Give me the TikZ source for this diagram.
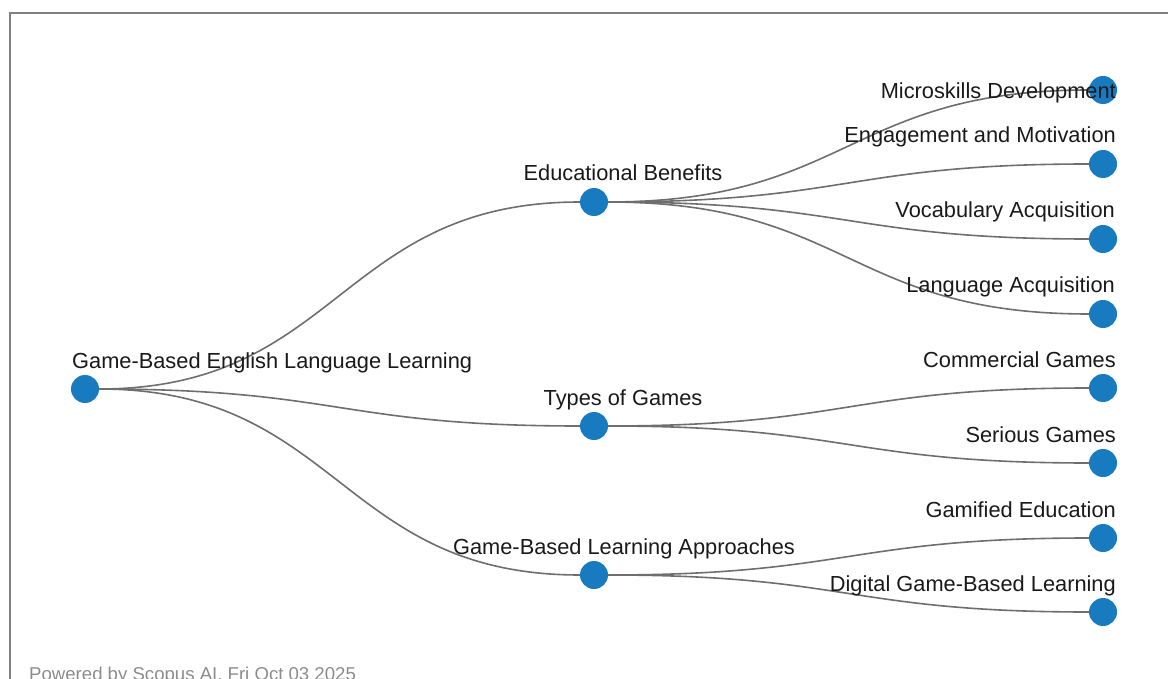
\documentclass[tikz,border=0pt]{standalone}
\usepackage{fontspec}
\setmainfont{Liberation Sans}
\usetikzlibrary{positioning,calc}

\definecolor{dotblue}{RGB}{24,123,191}
\definecolor{linkgray}{RGB}{110,110,110}
\definecolor{framegray}{RGB}{128,128,128}

\begin{document}
\begin{tikzpicture}[x=1pt,y=1pt,
    dot/.style={circle,fill=dotblue,inner sep=0pt,minimum size=28pt},
    lbl/.style={inner sep=0pt,font=\fontsize{21.8}{24}\selectfont,text=black!90},
    link/.style={draw=linkgray,line width=1.6pt,
      to path={.. controls +(254.5,0) and +(-254.5,0) .. (\tikztotarget)}}]
    \useasboundingbox (0,0) rectangle (1168,-679);
    % frame
    \draw [framegray,line width=2pt] (10,-700) -- (10,-13) -- (1200,-13);
    % tree nodes
    \node [dot] (root) at (85,-389) {};
    \node [dot,right of=root,node distance=509pt,yshift=187pt] (edu) {};
    \node [dot,right of=root,node distance=509pt,yshift=-37pt] (types) {};
    \node [dot,right of=root,node distance=509pt,yshift=-186pt] (appr) {};
    \node [dot,right of=edu,node distance=509pt,yshift=112pt] (micro) {};
    \node [dot,right of=edu,node distance=509pt,yshift=38pt] (engage) {};
    \node [dot,right of=edu,node distance=509pt,yshift=-37pt] (vocab) {};
    \node [dot,right of=edu,node distance=509pt,yshift=-112pt] (lang) {};
    \node [dot,right of=types,node distance=509pt,yshift=38pt] (commercial) {};
    \node [dot,right of=types,node distance=509pt,yshift=-37pt] (serious) {};
    \node [dot,right of=appr,node distance=509pt,yshift=37pt] (gamified) {};
    \node [dot,right of=appr,node distance=509pt,yshift=-37pt] (digital) {};
    % links
    \draw [link] (root) to (edu);
    \draw [link] (root) to (types);
    \draw [link] (root) to (appr);
    \draw [link] (edu) to (micro);
    \draw [link] (edu) to (engage);
    \draw [link] (edu) to (vocab);
    \draw [link] (edu) to (lang);
    \draw [link] (types) to (commercial);
    \draw [link] (types) to (serious);
    \draw [link] (appr) to (gamified);
    \draw [link] (appr) to (digital);
    % labels
    \node [lbl,anchor=base west] (root-l) at ($(root)+(-13,21)$) {Game-Based English Language Learning};
    \node [lbl,anchor=base] (edu-l) at ($(edu)+(29,21)$) {Educational Benefits};
    \node [lbl,anchor=base] (types-l) at ($(types)+(29,21)$) {Types of Games};
    \node [lbl,anchor=base] (appr-l) at ($(appr)+(30,21)$) {Game-Based Learning Approaches};
    \node [lbl,anchor=base east] (micro-l) at ($(micro)+(13,-9)$) {Microskills Development};
    \node [lbl,anchor=base east] (engage-l) at ($(engage)+(13,21)$) {Engagement and Motivation};
    \node [lbl,anchor=base east] (vocab-l) at ($(vocab)+(12,21)$) {Vocabulary Acquisition};
    \node [lbl,anchor=base east] (lang-l) at ($(lang)+(12,21)$) {Language Acquisition};
    \node [lbl,anchor=base east] (commercial-l) at ($(commercial)+(13,21)$) {Commercial Games};
    \node [lbl,anchor=base east] (serious-l) at ($(serious)+(13,21)$) {Serious Games};
    \node [lbl,anchor=base east] (gamified-l) at ($(gamified)+(13,21)$) {Gamified Education};
    \node [lbl,anchor=base east] (digital-l) at ($(digital)+(13,21)$) {Digital Game-Based Learning};
    % footer
    \node [inner sep=0pt,anchor=base west,font=\fontsize{18.6}{20}\selectfont,text=black!45] (footer) at (29,-680) {Powered by Scopus AI, Fri Oct 03 2025};
\end{tikzpicture}
\end{document}
